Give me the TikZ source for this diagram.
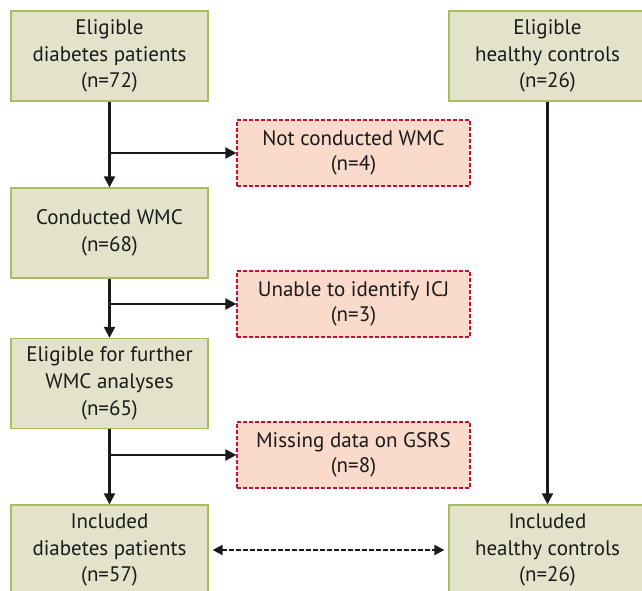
\documentclass[tikz,border=0pt]{standalone}
\usepackage{fontspec}
\setmainfont{PT Sans}
\usetikzlibrary{arrows.meta}
\definecolor{gfill}{HTML}{E2E3CA}
\definecolor{gbord}{HTML}{A9BC5F}
\definecolor{rfill}{HTML}{FADACB}
\definecolor{rbord}{HTML}{C8102E}
\definecolor{ink}{HTML}{1A1A1A}
\tikzset{
  gbox/.style={draw=gbord, fill=gfill, line width=1.3pt, align=center, inner sep=0pt,
    minimum width=197pt, minimum height=90pt, text=ink,
    font=\fontsize{21pt}{26.7pt}\selectfont},
  rbox/.style={draw=rbord, fill=rfill, line width=1.2pt, dash pattern=on 4pt off 2pt,
    align=center, inner sep=0pt, minimum width=233pt, minimum height=66pt, text=ink,
    font=\fontsize{21pt}{25pt}\selectfont},
  arr/.style={draw=ink, line width=2.2pt, -{Triangle[length=11pt,width=11pt]}},
  darr/.style={draw=ink, line width=2.2pt, dash pattern=on 4.5pt off 2.5pt,
    {Triangle[length=10pt,width=10pt]}-{Triangle[length=10pt,width=10pt]}}
}
\begin{document}
\begin{tikzpicture}[x=1pt,y=-1pt]
\useasboundingbox (0,0) rectangle (642,591);
\clip (0,0) rectangle (642,591);
\node[gbox] (A) at (109.5,56) {Eligible\\diabetes patients\\(n=72)};
\node[gbox] (H1) at (547.5,56) {Eligible\\healthy controls\\(n=26)};
\node[rbox] (R1) at (353.5,153) {Not conducted WMC\\(n=4)};
\node[gbox] (B) at (109.5,233) {Conducted WMC\\(n=68)};
\node[rbox] (R2) at (353.5,304) {Unable to identify ICJ\\(n=3)};
\node[gbox] (C) at (109.5,383.5) {Eligible for further\\WMC analyses\\(n=65)};
\node[rbox] (R3) at (353.5,455) {Missing data on GSRS\\(n=8)};
\node[gbox] (D) at (109.5,550) {Included\\diabetes patients\\(n=57)};
\node[gbox] (H2) at (547.5,550) {Included\\healthy controls\\(n=26)};
\draw[arr] (A.south) -- (B.north);
\draw[arr] (A.south |- R1.west) -- (R1.west);
\draw[arr] (B.south) -- (C.north);
\draw[arr] (B.south |- R2.west) -- (R2.west);
\draw[arr] (C.south) -- (D.north);
\draw[arr] (C.south |- R3.west) -- (R3.west);
\draw[arr] (H1.south) -- (H2.north);
\draw[darr, shorten <=4pt, shorten >=4pt] (D.east) -- (H2.west);
\end{tikzpicture}
\end{document}
